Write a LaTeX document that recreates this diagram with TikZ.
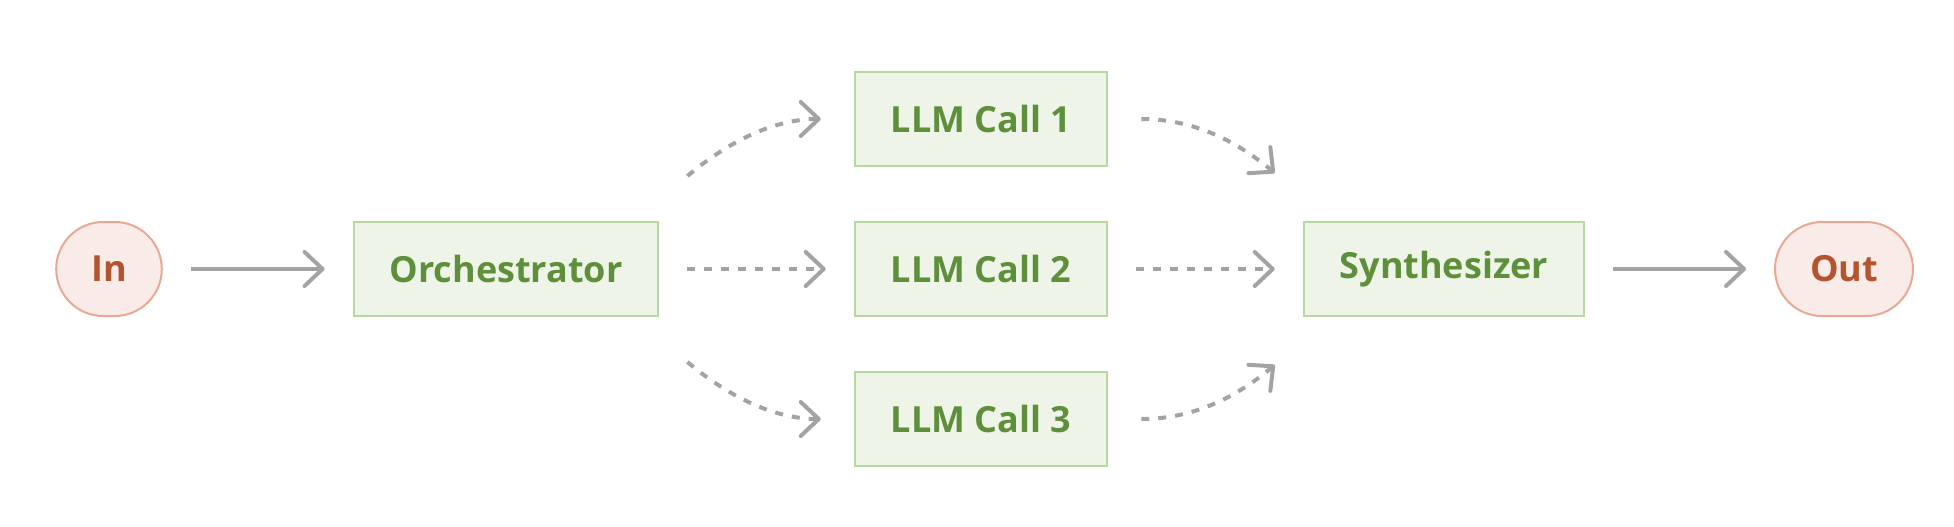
\documentclass[tikz,border=0pt]{standalone}
\usepackage{fontspec}
\setmainfont{Open Sans}
\usetikzlibrary{arrows.meta,calc}
\definecolor{boxfill}{HTML}{EEF5E8}
\definecolor{boxline}{HTML}{B7D9A0}
\definecolor{boxtext}{HTML}{5E8F3A}
\definecolor{endfill}{HTML}{F9ECE8}
\definecolor{endline}{HTML}{E8A893}
\definecolor{endtext}{HTML}{B4532F}
\definecolor{flowgray}{HTML}{A3A3A3}
\begin{document}
\begin{tikzpicture}[x=0.5pt,y=0.5pt,
    stage/.style={draw=boxline,fill=boxfill,line width=1pt,text=boxtext,
      font=\fontsize{18}{21}\selectfont\bfseries,minimum height=47pt,inner xsep=18pt},
    term/.style={stage,draw=endline,fill=endfill,text=endtext,rounded corners=23.5pt,inner xsep=17.5pt},
    flow/.style={draw=flowgray,line width=2pt,-{Straight Barb[length=9pt,width=17pt,round]},
      shorten <=14pt,shorten >=14pt},
    flowd/.style={flow,dash pattern=on 4pt off 4.5pt}]
  \useasboundingbox (0,0) rectangle (1954,526);
  \draw
    (109,257) node[term] (in){In}
    (506,257) node[stage] (orch){Orchestrator}
    (981,407) node[stage] (call1){LLM Call 1}
    (981,257) node[stage] (call2){LLM Call 2}
    (981,107) node[stage] (call3){LLM Call 3}
    (1444,257) node[stage] (synth){Synthesizer}
    (1844,257) node[term] (out){Out};
  \coordinate (s1) at ($(orch.north east)+(28,45)$);
  \coordinate (s3) at ($(orch.south east)+(28,-45)$);
  \coordinate (e1) at ($(synth.north west)+(-28,48)$);
  \coordinate (e3) at ($(synth.south west)+(-28,-48)$);
  \begin{scope}
    \draw[flow] (in) to (orch);
    \draw[flow] (synth) to (out);
    \draw[flowd] (orch) to (call2);
    \draw[flowd] (call2) to (synth);
    \draw[flowd,shorten <=0pt,shorten >=16.5pt] (s1) to[out=40,in=180] (call1.west);
    \draw[flowd,shorten <=0pt,shorten >=16.5pt] (s3) to[out=-40,in=180] (call3.west);
    \draw[flowd,shorten <=16.5pt,shorten >=0pt] (call1.east) to[out=0,in=140] (e1);
    \draw[flowd,shorten <=16.5pt,shorten >=0pt] (call3.east) to[out=0,in=-140] (e3);
  \end{scope}
\end{tikzpicture}
\end{document}
